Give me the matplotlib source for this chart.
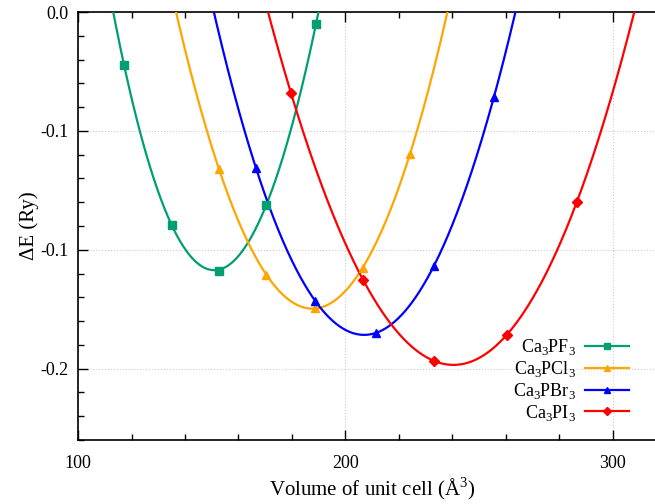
import numpy as np
import matplotlib
matplotlib.use("Agg")
import matplotlib.pyplot as plt
from matplotlib.ticker import MultipleLocator, FixedLocator

plt.rcParams['font.family'] = ['Liberation Serif', 'DejaVu Serif']
plt.rcParams['mathtext.fontset'] = 'custom'
plt.rcParams['mathtext.rm'] = 'Liberation Serif'

labels = ['Ca$_3$PF$_3$', 'Ca$_3$PCl$_3$', 'Ca$_3$PBr$_3$', 'Ca$_3$PI$_3$']
colors = ['#009e73', '#ffa500', '#0000ff', '#ff0000']
markers = ['s', '^', '^', 'D']

vol_F = [117.2, 135.1, 152.7, 170.3, 189.0]
e_F = [-0.0223, -0.0895, -0.1088, -0.0811, -0.0050]
vol_Cl = [152.7, 170.3, 188.6, 206.5, 224.1]
e_Cl = [-0.0660, -0.1105, -0.1244, -0.1076, -0.0597]
vol_Br = [166.5, 188.6, 211.4, 233.1, 255.5]
e_Br = [-0.0655, -0.1214, -0.1349, -0.1067, -0.0357]
vol_I = [179.6, 206.5, 233.1, 260.4, 286.5]
e_I = [-0.0340, -0.1126, -0.1466, -0.1357, -0.0798]

series = [(vol_F, e_F), (vol_Cl, e_Cl), (vol_Br, e_Br), (vol_I, e_I)]

ytick_vals = [0.0, -0.05, -0.10, -0.15]
ytick_labels = ['0.0', '-0.1', '-0.1', '-0.2']
xtick_vals = [100, 200, 300]

fig = plt.figure(figsize=(6.55, 5.04), dpi=100)
ax = fig.add_axes([78/655, 1-440/504, (220*2.675)/655, (440-12)/504])

for (v, e), lab, c, m in zip(series, labels, colors, markers):
    v = np.asarray(v); e = np.asarray(e)
    # smooth cubic fit of E(V), kept on its single-minimum branch
    coef = np.polyfit(v, e, 3)
    vv = np.linspace(v.min() - 45, v.max() + 45, 1000)
    ee = np.polyval(coef, vv)
    d = np.polyval(np.polyder(coef), vv)
    imin = np.argmin(np.where((vv > v.min()) & (vv < v.max()), ee, np.inf))
    lo = imin
    while lo > 0 and d[lo - 1] < 0:
        lo -= 1
    hi = imin
    while hi < len(vv) - 1 and d[hi + 1] > 0:
        hi += 1
    ms = 6 if m != 'D' else 5
    ax.plot(vv[lo:hi + 1], ee[lo:hi + 1], color=c, lw=1.6, zorder=3)
    ax.plot(v, e, linestyle='none', marker=m, color=c, ms=ms, zorder=4)
    ax.plot([], [], color=c, lw=1.6, marker=m, ms=5 if m != 'D' else 4.5, label=lab)

ax.set_xlim(100, 320)
ax.set_ylim(-0.18, 0.0)
ax.xaxis.set_major_locator(FixedLocator(xtick_vals))
ax.xaxis.set_minor_locator(MultipleLocator(20))
ax.yaxis.set_major_locator(FixedLocator(ytick_vals))
ax.set_yticklabels(ytick_labels)
ax.yaxis.set_minor_locator(MultipleLocator(0.01))
ax.tick_params(which='both', direction='in', top=True, right=True, labelsize=13, width=1)
ax.tick_params(which='major', length=7)
ax.tick_params(axis='x', which='major', pad=11)
ax.tick_params(axis='y', which='major', pad=7)
ax.tick_params(which='minor', length=4)
ax.grid(True, which='major', linestyle=':', color='#cccccc', lw=0.8)
for s in ax.spines.values():
    s.set_linewidth(1.2)

ax.set_xlabel('Volume of unit cell (Å$^3$)', fontsize=15, labelpad=2)
ax.set_ylabel('ΔE (Ry)', fontsize=15, labelpad=1)

leg = ax.legend(loc='lower right', bbox_to_anchor=(0.955, 0.015), frameon=False, markerfirst=False,
                fontsize=13, handlelength=2.45, handletextpad=0.5, labelspacing=0.1, borderaxespad=0.2)
for t in leg.get_texts():
    t.set_ha('right')

fig.savefig('out.png', dpi=100)
